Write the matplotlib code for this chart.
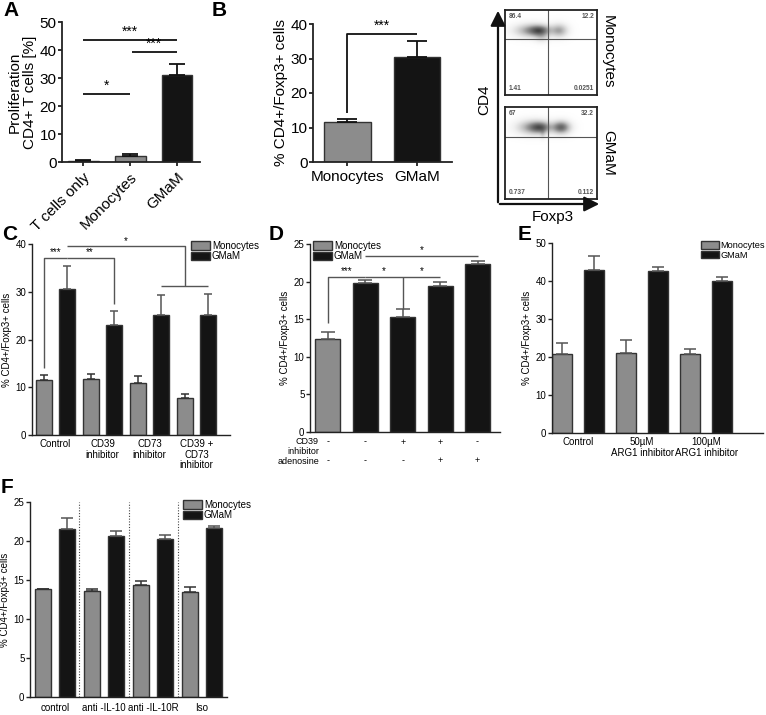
import matplotlib
matplotlib.use('Agg')
import matplotlib.pyplot as plt
import matplotlib.transforms as mtrans
import numpy as np
from matplotlib.patches import Patch, FancyArrowPatch

# ---------------- data ----------------
A_cats = ["T cells only", "Monocytes", "GMaM"]
A_vals = [0.5, 2.3, 31.0]
A_err = [0.2, 0.6, 4.0]

B_cats = ["Monocytes", "GMaM"]
B_vals = [11.5, 30.5]
B_err = [1.0, 4.6]

flow_rows = ["Monocytes", "GMaM"]
flow_quads_mono = ["86.4", "12.2", "1.41", "0.0251"]
flow_quads_gmam = ["67", "32.2", "0.737", "0.112"]
# density blobs: (x, y, sx, sy, amplitude) in box-fraction units
blob_mono = [(0.30, 0.76, 0.12, 0.05, 0.5), (0.38, 0.76, 0.07, 0.04, 0.45),
             (0.59, 0.76, 0.06, 0.05, 0.4), (0.40, 0.68, 0.05, 0.04, 0.18)]
blob_gmam = [(0.31, 0.78, 0.11, 0.05, 0.5), (0.39, 0.78, 0.07, 0.04, 0.45),
             (0.61, 0.78, 0.065, 0.045, 0.7), (0.41, 0.71, 0.02, 0.035, 0.15)]

C_groups = ["Control", "CD39\ninhibitor", "CD73\ninhibitor", "CD39 +\nCD73\ninhibitor"]
C_mono = [11.5, 11.8, 10.9, 7.8]
C_mono_err = [1.0, 0.9, 1.4, 0.8]
C_gmam = [30.5, 23.0, 25.1, 25.1]
C_gmam_err = [4.8, 3.0, 4.2, 4.5]

D_vals = [12.4, 19.8, 15.3, 19.4, 22.3]
D_err = [0.9, 0.4, 1.0, 0.6, 0.5]
D_rows = ["CD39", "inhibitor", "adenosine"]
D_cd39 = ["-", "-", "+", "+", "-"]
D_adeno = ["-", "-", "-", "+", "+"]

E_groups = ["Control", "50\u00b5M\nARG1 inhibitor", "100\u00b5M\nARG1 inhibitor"]
E_mono = [20.8, 21.0, 20.7]
E_mono_err = [2.9, 3.4, 1.4]
E_gmam = [42.9, 42.6, 40.1]
E_gmam_err = [3.8, 1.0, 0.9]

F_groups = ["control", "anti -IL-10", "anti -IL-10R", "Iso"]
F_mono = [13.8, 13.6, 14.4, 13.4]
F_mono_err = [0.1, 0.2, 0.5, 0.7]
F_gmam = [21.6, 20.7, 20.2, 21.7]
F_gmam_err = [1.3, 0.6, 0.6, 0.2]

# ---------------- setup ----------------
plt.rcParams['font.family'] = ['Liberation Sans', 'DejaVu Sans']
W, H = 766, 715
fig = plt.figure(figsize=(W / 100, H / 100), dpi=100)

GRAY = '#8c8c8c'
BLACK = '#141414'
EDGE = '#333333'
LINE = '#555555'


def ax_px(l, t, r, b):
    return fig.add_axes([l / W, 1 - b / H, (r - l) / W, (b - t) / H])


def style(ax, fs, lw=1.0):
    for s in ['top', 'right']:
        ax.spines[s].set_visible(False)
    for s in ['left', 'bottom']:
        ax.spines[s].set_linewidth(lw)
        ax.spines[s].set_color('#222222')
    ax.tick_params(labelsize=fs, length=3, width=lw, pad=1, color='#222222')


def bars(ax, x, vals, err, color, width, ecolor=EDGE, cap=3, elw=1.1):
    ax.bar(x, vals, width, color=color, edgecolor=EDGE, linewidth=1.0,
           yerr=[np.zeros(len(vals)), err],
           error_kw=dict(ecolor=ecolor, elinewidth=elw, capsize=cap, capthick=elw),
           zorder=2)


def sig(ax, xs, ys, color=LINE, lw=1.0):
    ax.plot(xs, ys, color=color, lw=lw, clip_on=False, zorder=3, solid_capstyle='butt')


def legend(ax, x, y, fs=7):
    h = [Patch(facecolor=GRAY, edgecolor=EDGE, lw=1.0, label='Monocytes'),
         Patch(facecolor=BLACK, edgecolor=EDGE, lw=1.0, label='GMaM')]
    ax.legend(handles=h, loc='upper left', bbox_to_anchor=(x / W, 1 - y / H),
              bbox_transform=fig.transFigure, frameon=False, fontsize=fs,
              handlelength=2.0, handleheight=0.95, labelspacing=0.05,
              handletextpad=0.15, borderpad=0, borderaxespad=0)


# ---------------- Panel A ----------------
axA = ax_px(62, 22, 200, 162)
xA = np.arange(len(A_cats))
bars(axA, xA, A_vals, A_err, [BLACK, GRAY, BLACK], 0.66, ecolor='#111111', cap=5.5, elw=1.3)
axA.set_xlim(-0.45, 2.49)
axA.set_ylim(0, 50)
axA.set_yticks(range(0, 51, 10))
axA.set_xticks(xA)
axA.set_xticklabels(A_cats, rotation=45, ha='right', rotation_mode='anchor')
style(axA, 11, lw=1.3)
axA.tick_params(axis='x', pad=3)
axA.set_ylabel("Proliferation\nCD4+ T cells [%]", fontsize=11, labelpad=2, linespacing=1.1)
sig(axA, [0, 1], [24.3, 24.3], color='#111111', lw=1.3)
axA.text(0.5, 24.8, '*', ha='center', va='bottom', fontsize=10)
sig(axA, [0, 2], [43.6, 43.6], color='#111111', lw=1.3)
axA.text(1.0, 44.0, '***', ha='center', va='bottom', fontsize=10)
sig(axA, [1.05, 2], [39.3, 39.3], color='#111111', lw=1.3)
axA.text(1.5, 39.7, '***', ha='center', va='bottom', fontsize=10)

# ---------------- Panel B ----------------
axB = ax_px(313, 24, 452, 162)
xB = np.arange(len(B_cats))
bars(axB, xB, B_vals, B_err, [GRAY, BLACK], 0.67, ecolor='#111111', cap=7, elw=1.3)
axB.set_xlim(-0.49, 1.5)
axB.set_ylim(0, 40)
axB.set_yticks(range(0, 41, 10))
axB.set_xticks(xB)
axB.set_xticklabels(B_cats)
style(axB, 11, lw=1.3)
axB.tick_params(axis='x', pad=3)
axB.set_ylabel("% CD4+/Foxp3+ cells", fontsize=11, labelpad=2)
sig(axB, [0, 0, 1], [14.2, 37.1, 37.1], color='#111111', lw=1.3)
axB.text(0.5, 37.4, '***', ha='center', va='bottom', fontsize=10)

# ---------------- Flow plots ----------------
def flow_box(l, t, r, b, comps, quads, hline):
    ax = ax_px(l, t, r, b)
    xs = np.linspace(0, 1, 240)
    X, Y = np.meshgrid(xs, xs)
    Z = np.zeros_like(X)
    for cx, cy, sx, sy, a in comps:
        Z += a * np.exp(-((X - cx) ** 2 / (2 * sx ** 2) + (Y - cy) ** 2 / (2 * sy ** 2)))
    Z = Z ** 0.75
    ax.imshow(Z, extent=[0, 1, 0, 1], origin='lower', cmap='Greys', vmin=0, vmax=1.15,
              aspect='auto', interpolation='bilinear')
    ax.axvline(0.47, color='#555555', lw=0.8)
    ax.axhline(hline, color='#555555', lw=0.8)
    ax.set_xlim(0, 1)
    ax.set_ylim(0, 1)
    ax.set_xticks([])
    ax.set_yticks([])
    for s in ax.spines.values():
        s.set_linewidth(1.3)
        s.set_color('#222222')
    kw = dict(fontsize=4.8, fontweight='bold', color='#555555')
    ax.text(0.04, 0.97, quads[0], ha='left', va='top', **kw)
    ax.text(0.97, 0.97, quads[1], ha='right', va='top', **kw)
    ax.text(0.04, 0.03, quads[2], ha='left', va='bottom', **kw)
    ax.text(0.97, 0.03, quads[3], ha='right', va='bottom', **kw)
    return ax

flow_box(505, 10, 597, 95, blob_mono, flow_quads_mono, 0.66)
flow_box(505, 107, 597, 199, blob_gmam, flow_quads_gmam, 0.67)

# ---------------- Panel C ----------------
axC = ax_px(32, 244, 230, 435)
xC = np.arange(len(C_groups))
off, wC = 0.245, 0.34
bars(axC, xC - off, C_mono, C_mono_err, GRAY, wC, ecolor='#333333')
bars(axC, xC + off, C_gmam, C_gmam_err, BLACK, wC, ecolor='#555555')
axC.set_xlim(-0.5, 3.71)
axC.set_ylim(0, 40)
axC.set_yticks(range(0, 41, 10))
axC.set_xticks(xC)
axC.set_xticklabels(C_groups, linespacing=1.05)
style(axC, 7)
axC.tick_params(axis='x', length=0, pad=3)
axC.set_ylabel("% CD4+/Foxp3+ cells", fontsize=7, labelpad=3)
sig(axC, [-off, -off, off], [14.0, 37.1, 37.1])
axC.text(0, 37.3, '***', ha='center', va='bottom', fontsize=7)
sig(axC, [off, 1 + off, 1 + off], [37.1, 37.1, 27.5])
axC.text(0.73, 37.3, '**', ha='center', va='bottom', fontsize=7)
mid = (2 + off + 3 + off) / 2
sig(axC, [off, mid, mid], [39.5, 39.5, 31.1])
sig(axC, [2 + off, 3 + off], [31.1, 31.1])
axC.text(1.5, 39.6, '*', ha='center', va='bottom', fontsize=7)
legend(axC, 191, 241)

# ---------------- Panel D ----------------
axD = ax_px(310, 244, 500, 432)
xD = np.arange(len(D_vals))
bars(axD, xD, D_vals, D_err, [GRAY, BLACK, BLACK, BLACK, BLACK], 0.67, ecolor='#555555', cap=5)
axD.set_xlim(-0.48, 4.6)
axD.set_ylim(0, 25)
axD.set_yticks(range(0, 26, 5))
axD.set_xticks([])
style(axD, 7)
axD.set_ylabel("% CD4+/Foxp3+ cells", fontsize=7, labelpad=3)
row_y = [442, 451, 461]
tD = mtrans.blended_transform_factory(axD.transData, ov_tr := fig.transFigure)
for i in xD:
    axD.text(i, 1 - row_y[0] / H, D_cd39[i], transform=tD, ha='center', va='center', fontsize=6.5)
    axD.text(i, 1 - row_y[2] / H, D_adeno[i], transform=tD, ha='center', va='center', fontsize=6.5)
sig(axD, [0, 0, 1], [14.5, 20.6, 20.6])
axD.text(0.5, 20.7, '***', ha='center', va='bottom', fontsize=7)
sig(axD, [1, 3], [20.6, 20.6])
sig(axD, [2, 2], [20.6, 16.3])
axD.text(1.5, 20.7, '*', ha='center', va='bottom', fontsize=7)
axD.text(2.5, 20.7, '*', ha='center', va='bottom', fontsize=7)
sig(axD, [1, 4], [23.4, 23.4])
axD.text(2.5, 23.5, '*', ha='center', va='bottom', fontsize=7)
legend(axD, 313, 241)

# ---------------- Panel E ----------------
axE = ax_px(552, 243, 763, 433)
xE = np.arange(len(E_groups))
offE, wE = 0.25, 0.31
bars(axE, xE - offE, E_mono, E_mono_err, GRAY, wE, ecolor='#555555', cap=4.5)
bars(axE, xE + offE, E_gmam, E_gmam_err, BLACK, wE, ecolor='#555555', cap=4.5)
axE.set_xlim(-0.41, 2.89)
axE.set_ylim(0, 50)
axE.set_yticks(range(0, 51, 10))
axE.set_xticks(xE)
axE.set_xticklabels(E_groups, linespacing=1.05)
style(axE, 7)
axE.tick_params(axis='x', length=0, pad=3)
axE.set_ylabel("% CD4+/Foxp3+ cells", fontsize=7, labelpad=3)
legend(axE, 701, 241, fs=6.6)

# ---------------- Panel F ----------------
axF = ax_px(30, 502, 227, 697)
xF = np.arange(len(F_groups))
offF, wF = 0.245, 0.33
bars(axF, xF - offF, F_mono, F_mono_err, GRAY, wF, ecolor='#333333', cap=4)
bars(axF, xF + offF, F_gmam, F_gmam_err, BLACK, wF, ecolor='#555555', cap=4)
for xv in xF[:-1] + 0.5:
    axF.plot([xv, xv], [0, 25], color='#444444', lw=0.8, ls=(0, (1, 1.5)), zorder=1)
axF.set_xlim(-0.51, 3.51)
axF.set_ylim(0, 25)
axF.set_yticks(range(0, 26, 5))
axF.set_xticks(xF)
axF.set_xticklabels(F_groups)
style(axF, 7)
axF.tick_params(axis='x', length=0, pad=4)
axF.set_ylabel("% CD4+/Foxp3+ cells", fontsize=7, labelpad=3)
legend(axF, 183, 500)

# ---------------- overlay: panel letters, flow axes, D row labels ----------------
ov = fig.add_axes([0, 0, 1, 1], zorder=10)
ov.set_xlim(0, W)
ov.set_ylim(H, 0)
ov.axis('off')
ov.patch.set_alpha(0)
for lab, (x, y) in {'A': (3, 1), 'B': (212, 1), 'C': (2, 225), 'D': (269, 225),
                    'E': (518, 225), 'F': (1, 478)}.items():
    ov.text(x, y, lab, ha='left', va='top', fontsize=15, fontweight='bold')
for txt, y in zip(D_rows, row_y):
    ov.text(319, y, txt, ha='right', va='center', fontsize=6.5)
ov.add_patch(FancyArrowPatch((498, 205), (498, 8), arrowstyle='-|>,head_length=6,head_width=3',
                             mutation_scale=1.5, lw=1.6, color='#111111'))
ov.add_patch(FancyArrowPatch((497, 204), (602, 204), arrowstyle='-|>,head_length=6,head_width=3',
                             mutation_scale=1.5, lw=1.6, color='#111111'))
ov.text(484, 100, 'CD4', rotation=90, ha='center', va='center', fontsize=11)
ov.text(553, 217, 'Foxp3', ha='center', va='center', fontsize=11)
ov.text(608, 52, flow_rows[0], rotation=-90, ha='center', va='center', fontsize=11)
ov.text(608, 153, flow_rows[1], rotation=-90, ha='center', va='center', fontsize=11)

fig.savefig('out.png', dpi=100)
